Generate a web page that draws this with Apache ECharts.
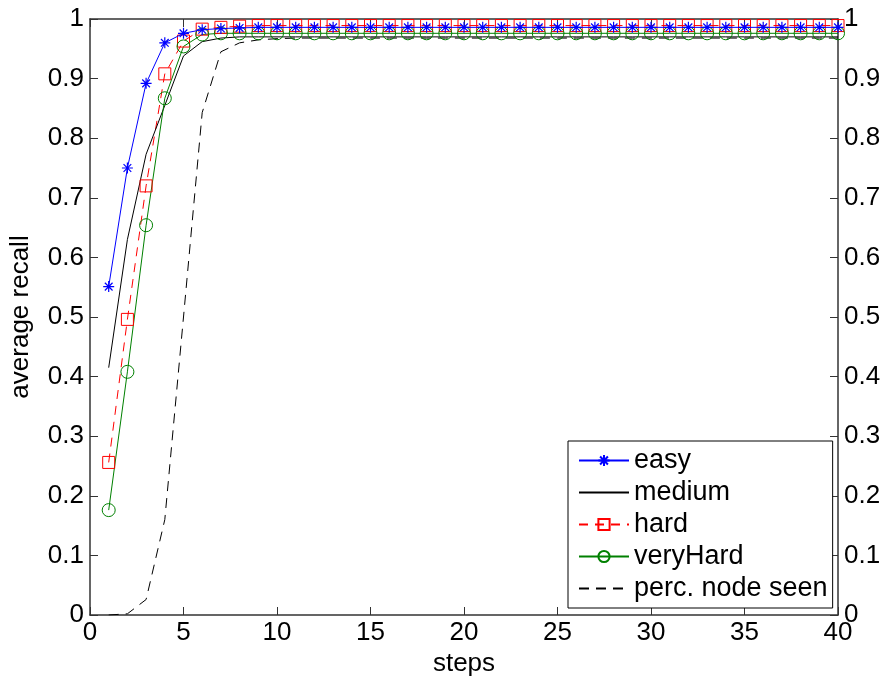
<!DOCTYPE html>
<html>
<head>
<meta charset="utf-8">
<script src="https://cdn.jsdelivr.net/npm/echarts@6/dist/echarts.min.js"></script>
<style>
  html, body { margin: 0; padding: 0; background: #fff; }
  #chart { width: 888px; height: 682px; }
</style>
</head>
<body>
<div id="chart"></div>
<script>
var steps = [1,2,3,4,5,6,7,8,9,10,11,12,13,14,15,16,17,18,19,20,21,22,23,24,25,26,27,28,29,30,31,32,33,34,35,36,37,38,39,40];
var easy = [0.551,0.750,0.892,0.960,0.976,0.982,0.984,0.985,0.986,0.986,0.986,0.986,0.986,0.986,0.986,0.986,0.986,0.986,0.986,0.986,0.986,0.986,0.986,0.986,0.986,0.986,0.986,0.986,0.986,0.986,0.986,0.986,0.986,0.986,0.986,0.986,0.986,0.986,0.986,0.986];
var medium = [0.415,0.630,0.773,0.855,0.938,0.962,0.968,0.970,0.970,0.970,0.970,0.970,0.970,0.970,0.970,0.970,0.970,0.970,0.970,0.970,0.970,0.970,0.970,0.970,0.970,0.970,0.970,0.970,0.970,0.970,0.970,0.970,0.970,0.970,0.970,0.970,0.970,0.970,0.970,0.970];
var hard = [0.256,0.496,0.720,0.908,0.963,0.983,0.986,0.988,0.989,0.989,0.989,0.989,0.989,0.989,0.989,0.989,0.989,0.989,0.989,0.989,0.989,0.989,0.989,0.989,0.989,0.989,0.989,0.989,0.989,0.989,0.989,0.989,0.989,0.989,0.989,0.989,0.989,0.989,0.989,0.989];
var veryHard = [0.176,0.408,0.654,0.867,0.954,0.974,0.976,0.976,0.976,0.976,0.976,0.976,0.976,0.976,0.976,0.976,0.976,0.976,0.976,0.976,0.976,0.976,0.976,0.976,0.976,0.976,0.976,0.976,0.976,0.976,0.976,0.976,0.976,0.976,0.976,0.976,0.976,0.976,0.976,0.976];
var percSeen = [0.000,0.002,0.026,0.160,0.500,0.843,0.945,0.960,0.965,0.967,0.968,0.968,0.968,0.968,0.968,0.968,0.968,0.968,0.968,0.968,0.968,0.968,0.968,0.968,0.968,0.968,0.968,0.968,0.968,0.968,0.968,0.968,0.968,0.968,0.968,0.968,0.968,0.968,0.968,0.968];

function pairs(vals) {
  return steps.map(function (s, i) { return [s, vals[i]]; });
}

var FONT = 'Liberation Sans, Arial, sans-serif';
var AXIS_COLOR = '#333';
var star = 'path://M0,-1L0,1M-1,0L1,0M-0.7,-0.7L0.7,0.7M-0.7,0.7L0.7,-0.7';

var myChart = echarts.init(document.getElementById('chart'), null, { renderer: 'canvas' });

function xAx(pos, showLabel) {
  return {
    type: 'value', position: pos, min: 0, max: 40, interval: 5,
    name: showLabel ? 'steps' : '', nameLocation: 'middle', nameGap: 36,
    nameTextStyle: { fontFamily: FONT, fontSize: 26, color: '#000' },
    axisLine: { show: true, onZero: false, lineStyle: { color: AXIS_COLOR, width: 1.5 } },
    axisTick: { show: true, inside: true, length: 8, lineStyle: { color: AXIS_COLOR } },
    axisLabel: { show: showLabel, fontFamily: FONT, fontSize: 26, color: '#000', margin: 5 },
    splitLine: { show: false }
  };
}
function yAx(pos, showName) {
  return {
    type: 'value', position: pos, min: 0, max: 1, interval: 0.1,
    name: showName ? 'average recall' : '', nameLocation: 'middle', nameGap: 56,
    nameTextStyle: { fontFamily: FONT, fontSize: 26, color: '#000' },
    axisLine: { show: true, onZero: false, lineStyle: { color: AXIS_COLOR, width: 1.5 } },
    axisTick: { show: true, inside: true, length: 8, lineStyle: { color: AXIS_COLOR } },
    axisLabel: {
      fontFamily: FONT, fontSize: 26, color: '#000', margin: 6,
      formatter: function (v) { return v === 0 ? '0' : v === 1 ? '1' : v.toFixed(1); }
    },
    splitLine: { show: false }
  };
}

var option = {
  animation: false,
  backgroundColor: '#fff',
  grid: { left: 86, right: 50, top: 19, bottom: 66 },
  xAxis: [xAx('bottom', true), xAx('top', false)],
  yAxis: [yAx('left', true), yAx('right', false)],
  legend: {
    orient: 'vertical', left: 568, top: 441,
    padding: [6, 5, 6, 10], itemGap: 5, itemWidth: 50, itemHeight: 14,
    backgroundColor: '#fff', borderColor: '#000', borderWidth: 1,
    textStyle: { fontFamily: FONT, fontSize: 27, color: '#000', lineHeight: 27 },
    data: [
      'easy',
      { name: 'medium', itemStyle: { opacity: 0 } },
      'hard',
      'veryHard',
      { name: 'perc. node seen', itemStyle: { opacity: 0 } }
    ]
  },
  series: [
    {
      name: 'hard', type: 'line', data: pairs(hard), z: 2,
      symbol: 'rect', symbolSize: 12, color: '#ff0000',
      lineStyle: { color: '#ff0000', width: 1, type: [9, 7] },
      itemStyle: { color: 'transparent', borderColor: '#ff0000', borderWidth: 1 }
    },
    {
      name: 'easy', type: 'line', data: pairs(easy), z: 3,
      symbol: star, symbolSize: 11, color: '#0000ff',
      lineStyle: { color: '#0000ff', width: 1 },
      itemStyle: { color: 'transparent', borderColor: '#0000ff', borderWidth: 1.2 }
    },
    {
      name: 'medium', type: 'line', data: pairs(medium), z: 2,
      symbol: 'none', color: '#000',
      lineStyle: { color: '#000', width: 1 }
    },
    {
      name: 'veryHard', type: 'line', data: pairs(veryHard), z: 2,
      symbol: 'circle', symbolSize: 13, color: '#008000',
      lineStyle: { color: '#008000', width: 1 },
      itemStyle: { color: 'transparent', borderColor: '#008000', borderWidth: 1 }
    },
    {
      name: 'perc. node seen', type: 'line', data: pairs(percSeen), z: 1,
      symbol: 'none', color: '#000',
      lineStyle: { color: '#000', width: 1, type: [10, 7] }
    }
  ]
};

myChart.setOption(option);
window.addEventListener('resize', myChart.resize);
</script>
</body>
</html>
